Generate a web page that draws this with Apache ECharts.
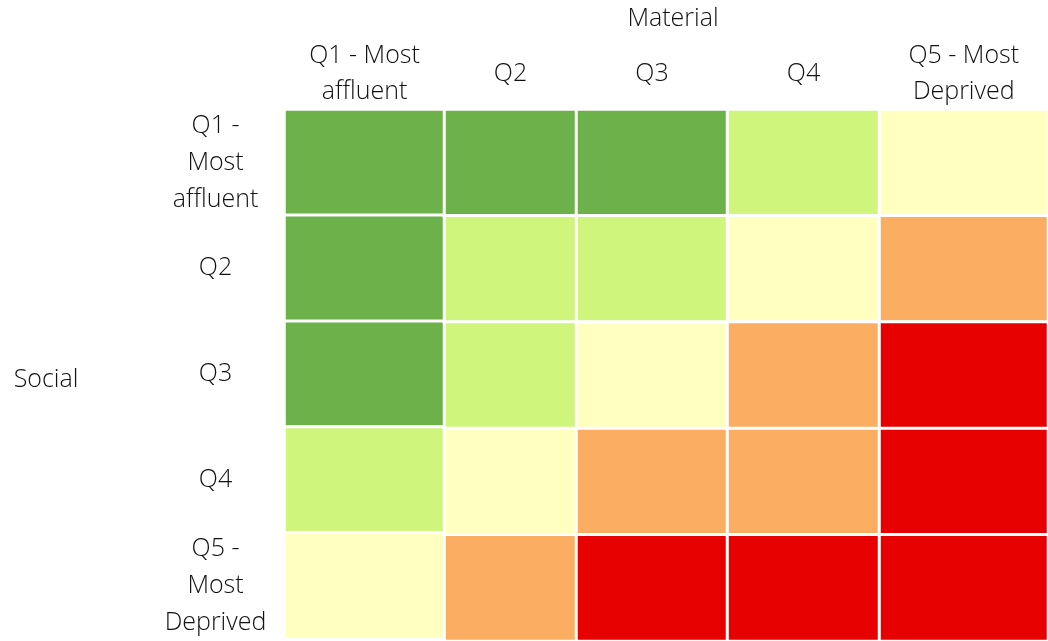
<!DOCTYPE html>
<html>
<head>
<meta charset="utf-8">
<script src="https://cdn.jsdelivr.net/npm/echarts@6/dist/echarts.min.js"></script>
<style>html,body{margin:0;padding:0;background:#fff}#chart{width:1048px;height:641px}</style>
</head>
<body>
<div id="chart"></div>
<script>
// Column (Material) and row (Social) categories
const materialLabels = ['Q1 - Most\naffluent', 'Q2', 'Q3', 'Q4', 'Q5 - Most\nDeprived'];
const socialLabels = ['Q1 -\nMost\naffluent', 'Q2', 'Q3', 'Q4', 'Q5 -\nMost\nDeprived'];
// Level per cell (1 = best/green ... 5 = worst/red), one array per social row, across material columns
const socialQ1 = [1, 1, 1, 2, 3];
const socialQ2 = [1, 2, 2, 3, 4];
const socialQ3 = [1, 2, 3, 4, 5];
const socialQ4 = [2, 3, 4, 4, 5];
const socialQ5 = [3, 4, 5, 5, 5];
const rows = [socialQ1, socialQ2, socialQ3, socialQ4, socialQ5];
const levelColors = ['#6CB14A', '#CFF57D', '#FFFFC0', '#FBAE62', '#E60000'];

// Column layout (Excel-like unequal widths)
const colLefts = [284.5, 444.5, 576.5, 727.5, 879.5];
const colWidths = [160, 132, 151, 152, 169];

const font = '"Open Sans", "Noto Sans", sans-serif';
const textColor = '#111';
const fs = 25;

const grids = [], xAxes = [], yAxes = [], series = [];
materialLabels.forEach((m, i) => {
  grids.push({ left: colLefts[i], width: colWidths[i], top: 109.5, height: 532 });
  xAxes.push({
    type: 'category', gridIndex: i, position: 'top', data: [m],
    axisLine: { show: false }, axisTick: { show: false }, splitLine: { show: false },
    axisLabel: { fontFamily: font, fontWeight: 300, fontSize: fs, color: textColor, lineHeight: 36, margin: 36, verticalAlign: 'middle', align: 'center' }
  });
  yAxes.push({
    type: 'category', gridIndex: i, inverse: true, data: socialLabels,
    axisLine: { show: false }, axisTick: { show: false }, splitLine: { show: false },
    axisLabel: i === 0 ? { fontFamily: font, fontWeight: 300, fontSize: fs, color: textColor, lineHeight: 37, margin: 69, align: 'center' } : { show: false }
  });
  series.push({
    type: 'heatmap', xAxisIndex: i, yAxisIndex: i,
    data: rows.map((r, j) => [0, j, r[i]]),
    itemStyle: { borderColor: '#fff', borderWidth: 3 },
    emphasis: { disabled: true },
    label: { show: false }
  });
});

const chart = echarts.init(document.getElementById('chart'), null, { renderer: 'canvas' });
chart.setOption({
  animation: false,
  backgroundColor: '#fff',
  title: [
    { text: 'Material', left: 668, top: 1, textAlign: 'center', textStyle: { fontFamily: font, fontWeight: 300, fontSize: fs, color: textColor } },
    { text: 'Social', left: 41, top: 362, textAlign: 'center', textStyle: { fontFamily: font, fontWeight: 300, fontSize: fs, color: textColor } }
  ],
  grid: grids,
  xAxis: xAxes,
  yAxis: yAxes,
  visualMap: {
    type: 'piecewise', show: false, seriesIndex: [0, 1, 2, 3, 4], dimension: 2,
    pieces: levelColors.map((c, k) => ({ value: k + 1, color: c }))
  },
  series: series
});
</script>
</body>
</html>
